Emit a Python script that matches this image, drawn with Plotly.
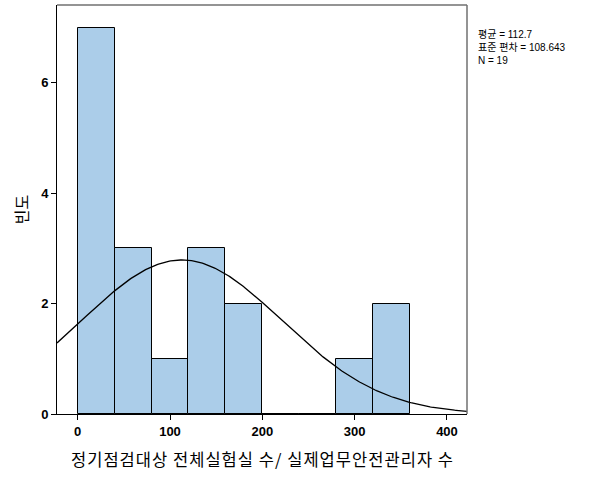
import numpy as np
import plotly.graph_objects as go

bin_starts = [0, 40, 80, 120, 160, 200, 240, 280, 320]
counts = [7, 3, 1, 3, 2, 0, 0, 1, 2]
bin_width = 40
mean = 112.7
sd = 108.643
n = 19
x_ticks = [0, 100, 200, 300, 400]
y_ticks = [0, 2, 4, 6]
x_title = "정기점검대상 전체실험실 수/ 실제업무안전관리자 수"
y_title = "빈도"

xr = [-22.4, 421.7]
yr = [0, 7.41]

fig = go.Figure()
fig.add_trace(go.Bar(
    x=[s + bin_width / 2 for s in bin_starts], y=counts, width=bin_width,
    marker=dict(color="#abcde9", line=dict(color="black", width=1)),
    hoverinfo="skip"))
xs = np.linspace(xr[0], xr[1], 300)
ys = n * bin_width / (sd * np.sqrt(2 * np.pi)) * np.exp(-0.5 * ((xs - mean) / sd) ** 2)
fig.add_trace(go.Scatter(x=xs, y=ys, mode="lines", line=dict(color="black", width=1.3),
                         hoverinfo="skip"))

spaced_title = "\u200a".join(x_title)

fig.update_layout(
    width=602, height=479, margin=dict(l=57, r=135, t=5, b=65),
    plot_bgcolor="white", paper_bgcolor="white", showlegend=False, bargap=0,
    font=dict(family="Arial, Liberation Sans, Noto Sans CJK KR", color="black"),
    xaxis=dict(range=xr, tickvals=x_ticks, ticktext=[f"<b>{v}</b>" for v in x_ticks],
               showgrid=False, zeroline=False, showline=True, linecolor="black", linewidth=1,
               ticks="outside", ticklen=5, tickcolor="black", tickfont=dict(size=13),
               title=dict(text=spaced_title,
                          font=dict(size=16.5, family="Noto Sans CJK KR"), standoff=16)),
    yaxis=dict(range=yr, tickvals=y_ticks, ticktext=[f"<b>{v}</b>" for v in y_ticks],
               showgrid=False, zeroline=False, showline=True, linecolor="black", linewidth=1,
               ticks="outside", ticklen=5, tickcolor="black", tickfont=dict(size=13),
               title=dict(text=y_title, font=dict(size=16, family="Noto Sans CJK KR"), standoff=8)),
)
fig.add_shape(type="line", xref="paper", yref="paper", x0=0, x1=1, y0=1, y1=1,
              line=dict(color="#707070", width=1.5))
fig.add_shape(type="line", xref="paper", yref="paper", x0=1, x1=1, y0=0, y1=1,
              line=dict(color="#707070", width=1.5))
fig.add_annotation(xref="paper", yref="paper", x=1.022, y=0.945, xanchor="left", yanchor="top",
                   align="left", showarrow=False,
                   text=f"평균 = {mean}<br>표준 편차 = {sd}<br>N = {n}",
                   font=dict(size=10, family="Arial, Noto Sans CJK KR"))
fig.write_html("out.html")
